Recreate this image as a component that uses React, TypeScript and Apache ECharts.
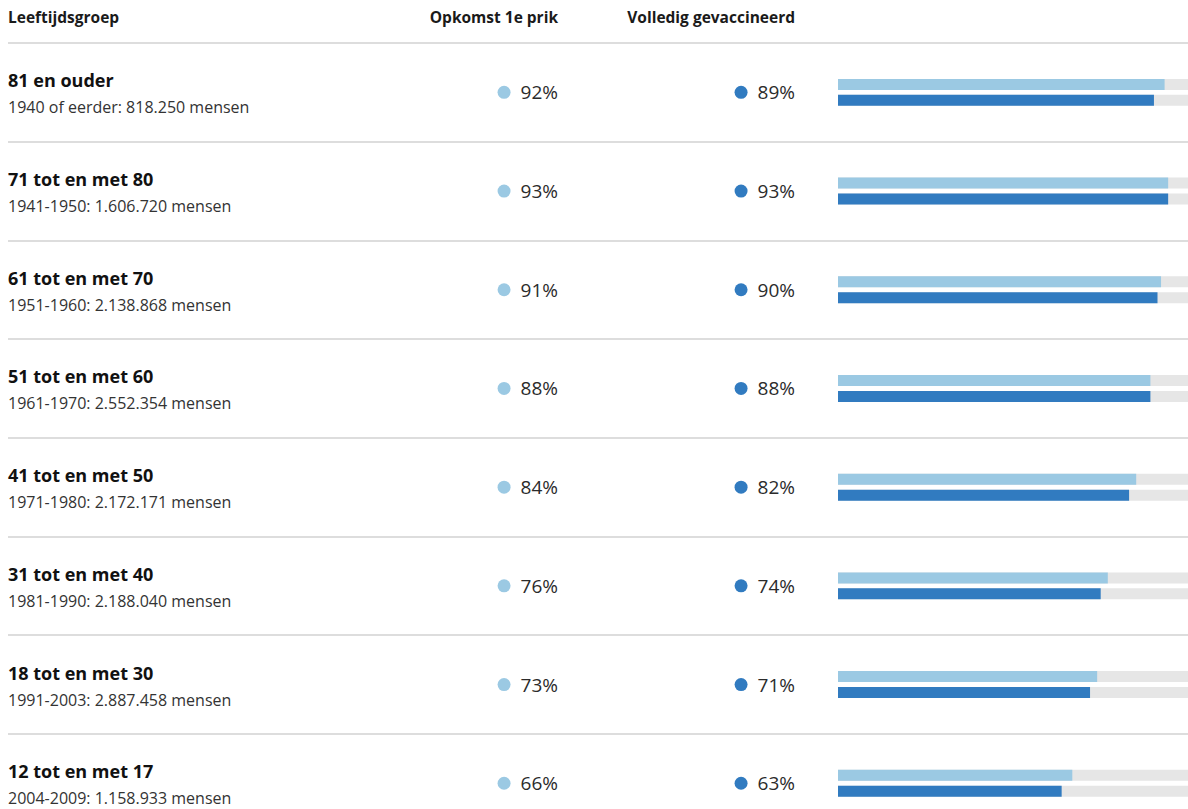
import React, { useEffect, useRef } from "react";
import * as echarts from "echarts";

const categories = [
  "81 en ouder",
  "71 tot en met 80",
  "61 tot en met 70",
  "51 tot en met 60",
  "41 tot en met 50",
  "31 tot en met 40",
  "18 tot en met 30",
  "12 tot en met 17",
];
const subtitles = [
  "1940 of eerder: 818.250 mensen",
  "1941-1950: 1.606.720 mensen",
  "1951-1960: 2.138.868 mensen",
  "1961-1970: 2.552.354 mensen",
  "1971-1980: 2.172.171 mensen",
  "1981-1990: 2.188.040 mensen",
  "1991-2003: 2.887.458 mensen",
  "2004-2009: 1.158.933 mensen",
];
const firstDose = [92, 93, 91, 88, 84, 76, 73, 66];
const fullyVaccinated = [89, 93, 90, 88, 82, 74, 71, 63];
const headers = ["Leeftijdsgroep", "Opkomst 1e prik", "Volledig gevaccineerd"];

const LIGHT = "#9bc9e3";
const DARK = "#317bc0";
const FONT = "'Open Sans', 'Noto Sans', sans-serif";

export default function App() {
  const ref = useRef<HTMLDivElement>(null);
  useEffect(() => {
    document.body.style.margin = "0";
    const chart = echarts.init(ref.current!, null, { renderer: "svg" });
    const rowH = 98.7;
    const top = 43;
    const h = rowH * categories.length;
    const pctAxis = (vals: number[], color: string, margin: number) => ({
      type: "category",
      gridIndex: 0,
      data: categories,
      inverse: true,
      position: "left",
      axisLine: { show: false },
      axisTick: { show: false },
      splitLine: { show: false },
      axisLabel: {
        margin,
        align: "right",
        formatter: (_: string, i: number) => `{d| }{v|${vals[i]}%}`,
        rich: {
          d: { width: 13, height: 13, borderRadius: 6.5, backgroundColor: color },
          v: { fontSize: 19, fontFamily: FONT, color: "#2b2b2b", padding: [0, 0, 0, 10] },
        },
      },
    });
    chart.setOption({
      animation: false,
      textStyle: { fontFamily: FONT },
      grid: [
        { left: 838, top, width: 355, height: h },
        { left: 8, top, width: 1195, height: h },
      ],
      xAxis: [
        { type: "value", gridIndex: 0, min: 0, max: 100, show: false },
        { type: "value", gridIndex: 1, min: 0, max: 100, show: false },
      ],
      yAxis: [
        {
          type: "category",
          gridIndex: 0,
          data: categories,
          inverse: true,
          axisLine: { show: false },
          axisTick: { show: false },
          splitLine: { show: false },
          axisLabel: {
            margin: 830,
            align: "left",
            formatter: (v: string, i: number) => `{t|${v}}\n{s|${subtitles[i]}}`,
            rich: {
              t: { fontSize: 18, fontWeight: "bold", color: "#111", fontFamily: FONT, lineHeight: 30 },
              s: { fontSize: 16, color: "#333", fontFamily: FONT, lineHeight: 24 },
            },
          },
        },
        pctAxis(firstDose, LIGHT, 838 - 558),
        pctAxis(fullyVaccinated, DARK, 838 - 795),
        {
          type: "category",
          gridIndex: 1,
          data: categories,
          inverse: true,
          axisLine: { show: false },
          axisTick: { show: false },
          axisLabel: { show: false },
          splitLine: { show: true, interval: 0, lineStyle: { color: "#d2d2d2", width: 1.5 } },
        },
      ],
      series: [
        {
          type: "bar",
          name: headers[1],
          xAxisIndex: 0,
          yAxisIndex: 0,
          data: firstDose,
          barWidth: 11,
          barGap: "45%",
          itemStyle: { color: LIGHT },
          showBackground: true,
          backgroundStyle: { color: "#e6e6e6" },
        },
        {
          type: "bar",
          name: headers[2],
          xAxisIndex: 0,
          yAxisIndex: 0,
          data: fullyVaccinated,
          barWidth: 11,
          barGap: "45%",
          itemStyle: { color: DARK },
          showBackground: true,
          backgroundStyle: { color: "#e6e6e6" },
        },
      ],
      graphic: [
        {
          type: "text",
          left: 8,
          top: 9,
          style: { text: headers[0], font: `bold 15.5px ${FONT}`, fill: "#1a1a1a" },
        },
        {
          type: "text",
          right: 1210 - 558,
          top: 9,
          style: { text: headers[1], font: `bold 15.5px ${FONT}`, fill: "#1a1a1a" },
        },
        {
          type: "text",
          right: 1210 - 795,
          top: 9,
          style: { text: headers[2], font: `bold 15.5px ${FONT}`, fill: "#1a1a1a" },
        },
      ],
    });
    return () => chart.dispose();
  }, []);
  return (
    <div style={{ width: 1188, height: 809, overflow: "hidden", position: "relative" }}>
      <div ref={ref} style={{ width: 1210, height: 840 }} />
    </div>
  );
}
